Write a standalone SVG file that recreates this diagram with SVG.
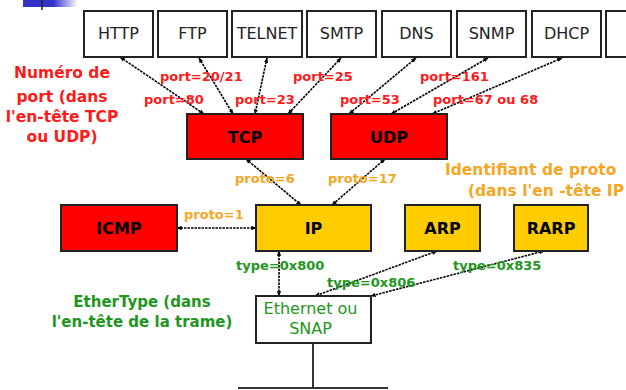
<svg xmlns="http://www.w3.org/2000/svg" width="626" height="390" viewBox="0 0 626 390">
<defs>
<linearGradient id="blueg" x1="0" y1="0" x2="1" y2="0">
<stop offset="0" stop-color="#3333cc"/>
<stop offset="0.55" stop-color="#3333cc"/>
<stop offset="1" stop-color="#3333cc" stop-opacity="0"/>
</linearGradient>
<marker id="ah" viewBox="0 0 8 8" refX="7.5" refY="4" markerWidth="5" markerHeight="5" orient="auto-start-reverse" markerUnits="userSpaceOnUse">
<path d="M0,0.5 L8,4 L0,7.5 z" fill="#000"/>
</marker>
<style>
.app{fill:#fff;stroke:#222;stroke-width:2}
.red{fill:#ff0000;stroke:#222;stroke-width:2}
.yel{fill:#ffcc00;stroke:#222;stroke-width:2}
.t{font-family:"DejaVu Sans",Verdana,sans-serif;font-size:16px;text-anchor:middle;fill:#222}
.tg{font-family:"DejaVu Sans",Verdana,sans-serif;font-size:16px;text-anchor:middle;fill:#1e961e}
.tb{font-family:"DejaVu Sans",Verdana,sans-serif;font-size:16px;font-weight:bold;text-anchor:middle;fill:#000}
.lr{font-family:"DejaVu Sans",Verdana,sans-serif;font-size:13px;font-weight:bold;fill:#ff1a1a}
.lo{font-family:"DejaVu Sans",Verdana,sans-serif;font-size:13px;font-weight:bold;fill:#f5a623}
.lg{font-family:"DejaVu Sans",Verdana,sans-serif;font-size:13px;font-weight:bold;fill:#1e961e}
.nr{font-family:"DejaVu Sans",Verdana,sans-serif;font-size:15.5px;font-weight:bold;fill:#ff1a1a;text-anchor:middle}
.no{font-family:"DejaVu Sans",Verdana,sans-serif;font-size:15.5px;font-weight:bold;fill:#f5a623}
.ng{font-family:"DejaVu Sans",Verdana,sans-serif;font-size:15px;font-weight:bold;fill:#1e961e;text-anchor:middle}
.c{stroke:#000;stroke-width:1.6;stroke-dasharray:2.5 1;fill:none;marker-start:url(#ah);marker-end:url(#ah)}
</style>
</defs>
<rect x="0" y="0" width="626" height="390" fill="#fff"/>
<rect x="23" y="0" width="55" height="7" fill="url(#blueg)"/>
<line x1="42" y1="0" x2="42" y2="10" stroke="#222" stroke-width="1.5"/>

<g id="connectors">
<line class="c" x1="120" y1="57" x2="204" y2="114"/>
<line class="c" x1="199" y1="58" x2="233" y2="114"/>
<line class="c" x1="267" y1="58" x2="255" y2="114"/>
<line class="c" x1="341" y1="58" x2="288" y2="114"/>
<line class="c" x1="416" y1="58" x2="349" y2="114"/>
<line class="c" x1="488" y1="58" x2="391" y2="114"/>
<line class="c" x1="562" y1="58" x2="432" y2="114"/>
<line class="c" x1="246" y1="159" x2="301" y2="205"/>
<line class="c" x1="385" y1="159" x2="332" y2="205"/>
<line class="c" x1="177" y1="228" x2="256" y2="228"/>
<line class="c" x1="279" y1="251" x2="279" y2="296"/>
<line class="c" x1="437" y1="251" x2="315" y2="296"/>
<line class="c" x1="544" y1="251" x2="371" y2="296"/>
<line x1="313" y1="343" x2="313" y2="388" stroke="#333" stroke-width="2"/>
<line x1="238" y1="388" x2="388" y2="388" stroke="#333" stroke-width="2"/>
</g>

<g id="http"><rect class="app" x="84" y="11" width="69" height="46"/><text class="t" x="118.5" y="39">HTTP</text></g>
<g id="ftp"><rect class="app" x="158" y="11" width="69" height="46"/><text class="t" x="192.5" y="39">FTP</text></g>
<g id="telnet"><rect class="app" x="232" y="11" width="70" height="46"/><text class="t" x="267" y="39">TELNET</text></g>
<g id="smtp"><rect class="app" x="307" y="11" width="69" height="46"/><text class="t" x="341.5" y="39">SMTP</text></g>
<g id="dns"><rect class="app" x="382" y="11" width="69" height="46"/><text class="t" x="416.5" y="39">DNS</text></g>
<g id="snmp"><rect class="app" x="457" y="11" width="69" height="46"/><text class="t" x="491.5" y="39">SNMP</text></g>
<g id="dhcp"><rect class="app" x="532" y="11" width="69" height="46"/><text class="t" x="566.5" y="39">DHCP</text></g>
<g id="more"><rect class="app" x="606" y="11" width="69" height="46"/></g>

<g id="tcp"><rect class="red" x="187" y="114" width="116" height="45"/><text class="tb" x="245" y="143">TCP</text></g>
<g id="udp"><rect class="red" x="331" y="114" width="116" height="45"/><text class="tb" x="389" y="143">UDP</text></g>
<g id="icmp"><rect class="red" x="61" y="205" width="116" height="46"/><text class="tb" x="119" y="234">ICMP</text></g>
<g id="ip"><rect class="yel" x="256" y="205" width="115" height="46"/><text class="tb" x="313.5" y="234">IP</text></g>
<g id="arp"><rect class="yel" x="405" y="205" width="75" height="46"/><text class="tb" x="442.5" y="234">ARP</text></g>
<g id="rarp"><rect class="yel" x="514" y="205" width="74" height="46"/><text class="tb" x="551" y="234">RARP</text></g>
<g id="ethernet"><rect class="app" x="256" y="296" width="115" height="47"/>
<text class="tg" x="310.5" y="314">Ethernet ou</text>
<text class="tg" x="310.5" y="334">SNAP</text></g>

<g id="labels">
<text class="lr" x="160" y="81">port=20/21</text>
<text class="lr" x="144" y="104">port=80</text>
<text class="lr" x="235" y="104">port=23</text>
<text class="lr" x="293" y="81">port=25</text>
<text class="lr" x="340" y="104">port=53</text>
<text class="lr" x="420" y="81">port=161</text>
<text class="lr" x="433" y="104">port=67 ou 68</text>
<text class="lo" x="235" y="183">proto=6</text>
<text class="lo" x="328" y="183">proto=17</text>
<text class="lo" x="184" y="219">proto=1</text>
<text class="lg" x="236" y="270">type=0x800</text>
<text class="lg" x="327" y="287">type=0x806</text>
<text class="lg" x="453" y="270">type=0x835</text>
<text class="nr" x="62" y="78">Numéro de</text>
<text class="nr" x="62" y="102">port (dans</text>
<text class="nr" x="62" y="122">l'en-tête TCP</text>
<text class="nr" x="62" y="142">ou UDP)</text>
<text class="no" x="445" y="175">Identifiant de proto</text>
<text class="no" x="624" y="196" text-anchor="end">(dans l'en -tête IP</text>
<text class="ng" x="142" y="307">EtherType  (dans</text>
<text class="ng" x="142" y="327">l'en-tête de la trame)</text>
</g>
</svg>
